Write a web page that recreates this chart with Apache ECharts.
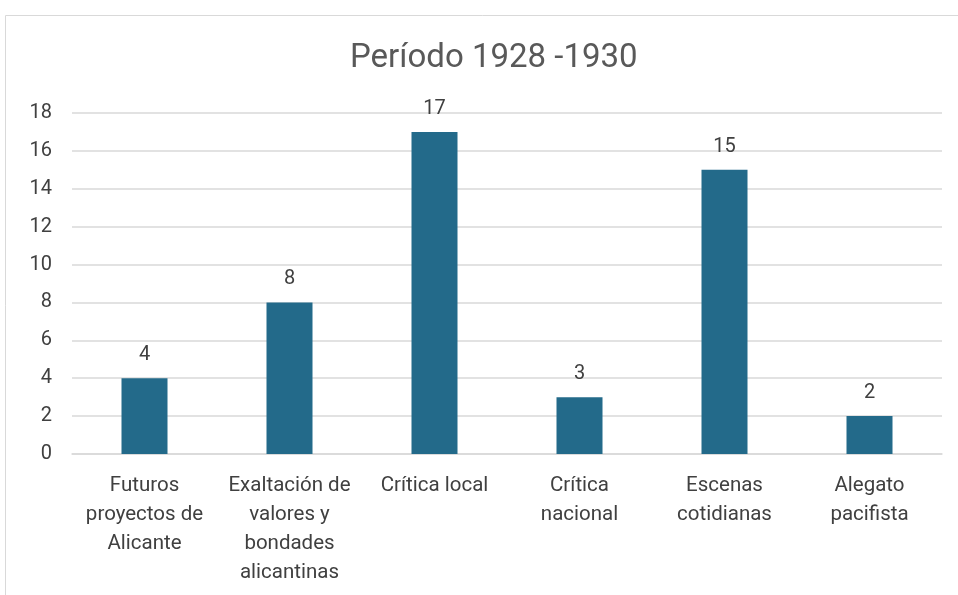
<!DOCTYPE html>
<html><head><meta charset="utf-8">
<script src="https://cdn.jsdelivr.net/npm/echarts@6/dist/echarts.min.js"></script>
<style>html,body{margin:0;padding:0;background:#fff}#c{width:958px;height:595px}</style>
</head><body><div id="c"></div>
<script>
const categories = ["Futuros\nproyectos de\nAlicante","Exaltación de\nvalores y\nbondades\nalicantinas","Crítica local","Crítica\nnacional","Escenas\ncotidianas","Alegato\npacifista"];
const values = [4, 8, 17, 3, 15, 2];
const yTicks = [0, 2, 4, 6, 8, 10, 12, 14, 16, 18];
const font = "Roboto, 'Liberation Sans', sans-serif";
const chart = echarts.init(document.getElementById('c'), null, {renderer:'canvas'});
chart.setOption({
  animation:false,
  graphic:[{type:'rect', shape:{x:5.5,y:15.5,width:1000,height:700}, style:{fill:'none', stroke:'#d9d9d9', lineWidth:1}, silent:true}],
  title:{text:'Período 1928 -1930', left:345, top:37, textStyle:{fontFamily:font, fontSize:33, fontWeight:'normal', color:'#595959'}},
  grid:{left:72, right:16, top:113, bottom:141},
  xAxis:{type:'category', data:categories,
    axisLine:{lineStyle:{color:'#d9d9d9', width:1.5}}, axisTick:{show:false},
    axisLabel:{fontFamily:font, fontSize:20.5, color:'#404040', lineHeight:29, margin:17, interval:0}},
  yAxis:{type:'value', min:0, max:18, interval:2,
    splitLine:{lineStyle:{color:'#d9d9d9', width:1.5}},
    axisLine:{show:false}, axisTick:{show:false},
    axisLabel:{fontFamily:font, fontSize:20, color:'#404040', margin:20, align:'right'}},
  series:[{type:'bar', data:values, barWidth:46, itemStyle:{color:'#236a8a'},
    label:{show:true, position:'top', distance:13, fontFamily:font, fontSize:20, color:'#404040'}}]
});
</script></body></html>
